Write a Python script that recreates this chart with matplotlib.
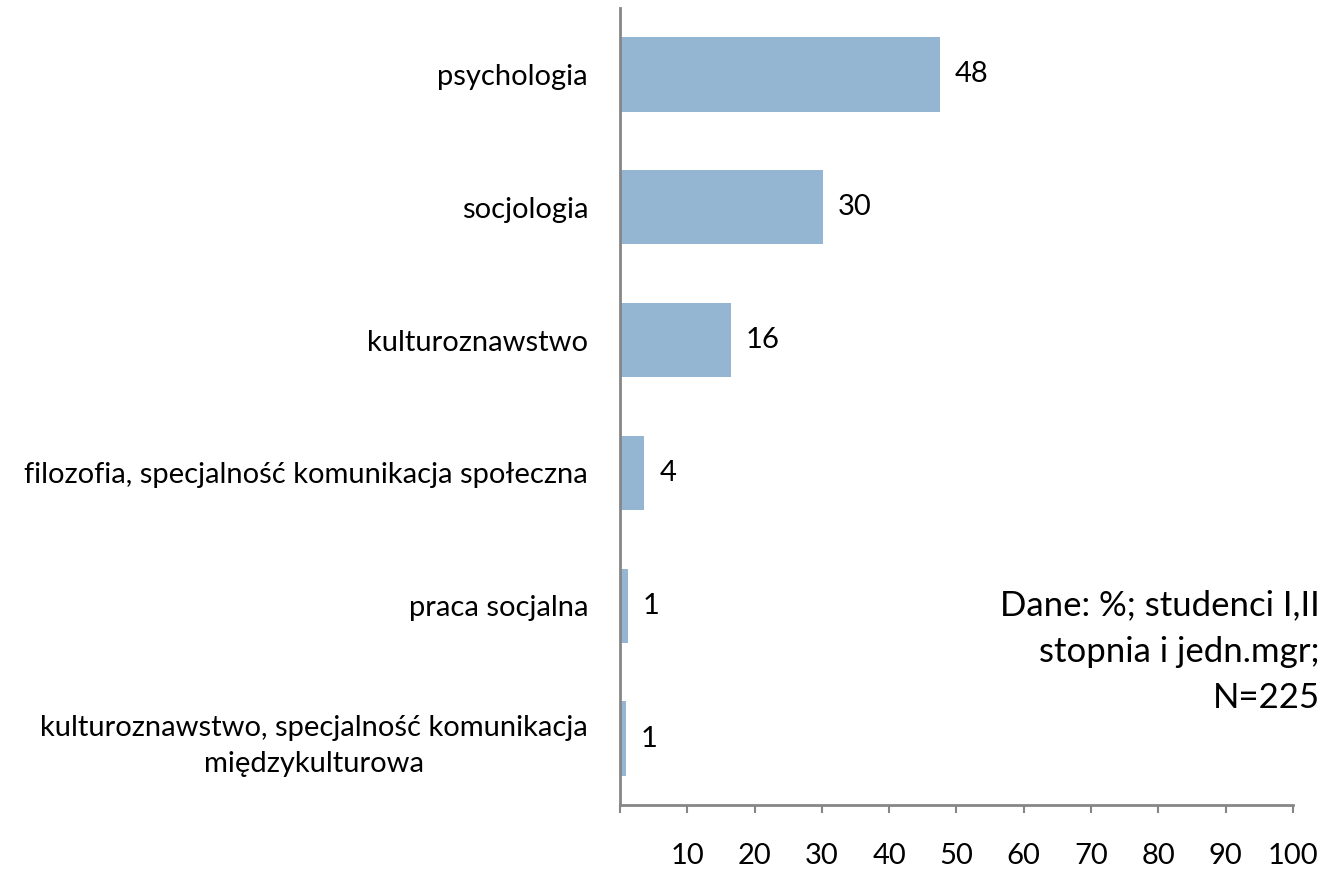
import matplotlib
matplotlib.use("Agg")
import matplotlib.pyplot as plt
from matplotlib.transforms import offset_copy

categories = [
    "psychologia",
    "socjologia",
    "kulturoznawstwo",
    "filozofia, specjalność komunikacja społeczna",
    "praca socjalna",
    "kulturoznawstwo, specjalność komunikacja\nmiędzykulturowa",
]
values = [47.5, 30.2, 16.5, 3.6, 1.2, 0.9]
value_labels = ["48", "30", "16", "4", "1", "1"]
x_ticks = [0, 10, 20, 30, 40, 50, 60, 70, 80, 90, 100]
x_tick_labels = ["", "10", "20", "30", "40", "50", "60", "70", "80", "90", "100"]
note = "Dane: %; studenci I,II\nstopnia i jedn.mgr;\nN=225"

plt.rcParams['font.family'] = ['Lato', 'DejaVu Sans']

W, H = 1337, 869
fig = plt.figure(figsize=(W / 100, H / 100), dpi=100)
ax = fig.add_axes([620 / W, (H - 805) / H, (1293 - 620) / W, (805 - 8) / H])

ypos = list(range(len(categories)))
ax.barh(ypos, values, height=0.56, color="#95B6D3")
ax.set_ylim(len(categories) - 0.5, -0.5)
ax.set_xlim(0, 100)

axis_col = "#868686"
for s in ["top", "right"]:
    ax.spines[s].set_visible(False)
for s in ["left", "bottom"]:
    ax.spines[s].set_color(axis_col)
    ax.spines[s].set_linewidth(2)

ax.set_yticks(ypos)
ax.set_yticklabels(categories, fontsize=21, multialignment="center", linespacing=1.45)
ax.tick_params(axis="y", length=0, pad=23)

ax.set_xticks(x_ticks)
ax.set_xticklabels(x_tick_labels, fontsize=21)
ax.tick_params(axis="x", direction="out", length=6, width=1.5, color=axis_col, pad=21)

for y, v, lab in zip(ypos, values, value_labels):
    tr = offset_copy(ax.transData, fig=fig, x=15, y=0, units="dots")
    ax.text(v, y, lab, transform=tr, ha="left", va="center", fontsize=21, color="black")

fig.text(1320 / W, 1 - 652 / H, note, ha="right", va="center", fontsize=25,
         linespacing=1.55, multialignment="right")

fig.savefig("out.png", dpi=100)
